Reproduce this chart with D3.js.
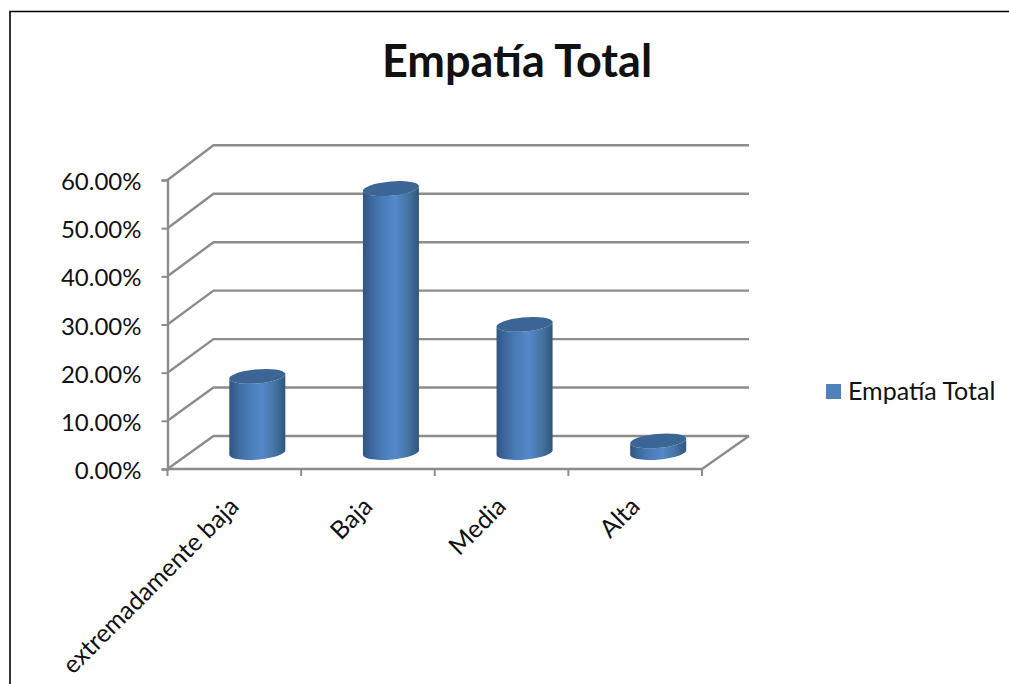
<!DOCTYPE html>
<html>
<head>
<meta charset="utf-8">
<script src="https://cdn.jsdelivr.net/npm/d3@7/dist/d3.min.js"></script>
<style>
  body { margin: 0; background: #fff; }
  text { font-family: Lato, "Open Sans", sans-serif; fill: #111; }
</style>
</head>
<body>
<div id="chart"></div>
<script>
const categories = ['extremadamente baja', 'Baja', 'Media', 'Alta'];
const values = [15.8, 54.8, 26.6, 2.4];
const yTicks = [0, 10, 20, 30, 40, 50, 60];
const seriesName = 'Empatía Total';

const width = 1009;
const height = 684;
const left = 167.5;
const right = 702;
const bottom = 469;
const top_ = 180;
const depthX = 46;
const depthY = 33;
const rx = 28;
const ry = 7;
const tilt = 2.8;
const gridColor = '#8c8c8c';

const svg = d3.select('#chart').append('svg').attr('width', width).attr('height', height);

const x = d3.scaleBand().domain(categories).range([left, right]);
const y = d3.scaleLinear().domain([0, 60]).range([bottom, top_]);
// the back wall is drawn a touch taller than the front edge
const yBack = d3.scaleLinear().domain([0, 60]).range([bottom - depthY, 145.3]);

// page frame, cut off by the window on the right and bottom
svg.append('path')
  .attr('d', `M10,${height}V11.5H${width}`)
  .attr('fill', 'none')
  .attr('stroke', '#000')
  .attr('stroke-width', 1.6);

svg.append('text')
  .attr('x', 517)
  .attr('y', 77)
  .attr('text-anchor', 'middle')
  .attr('font-size', 45)
  .attr('font-weight', 700)
  .text(seriesName);

const grad = svg.append('defs').append('linearGradient').attr('id', 'cyl');
[[0, '#2f5581'], [0.12, '#3a659a'], [0.35, '#4a7cb8'], [0.58, '#5488c9'], [0.82, '#44729f'], [1, '#2f5580']].forEach(([o, c]) => {
  grad.append('stop').attr('offset', o).attr('stop-color', c);
});

// walls and floor
const line = d3.line();
svg.append('g')
  .selectAll('path')
  .data(yTicks)
  .enter()
  .append('path')
  .attr('d', (d) => line([
    [left, y(d)],
    [left + depthX, yBack(d)],
    [right + depthX + 1, yBack(d)],
  ]))
  .attr('fill', 'none')
  .attr('stroke', gridColor)
  .attr('stroke-width', 2.4);

svg.append('path')
  .attr('d', line([[left, bottom], [right, bottom], [right + depthX + 1, bottom - depthY]]))
  .attr('fill', 'none')
  .attr('stroke', gridColor)
  .attr('stroke-width', 2.4);

// axes
const yAxis = svg.append('g')
  .attr('transform', `translate(${left},0)`)
  .call(d3.axisLeft(y).tickValues(yTicks).tickSize(6).tickPadding(20).tickFormat((d) => d.toFixed(2) + '%'));

const xAxis = svg.append('g')
  .attr('transform', `translate(0,${bottom})`)
  .call(d3.axisBottom(x).tickSize(0).tickPadding(0));

xAxis.selectAll('.tick line').remove();
xAxis.selectAll('.tick-mark')
  .data(d3.range(categories.length + 1))
  .enter()
  .append('line')
  .attr('x1', (i) => left + i * x.bandwidth())
  .attr('x2', (i) => left + i * x.bandwidth())
  .attr('y1', 0)
  .attr('y2', 7)
  .attr('stroke', gridColor)
  .attr('stroke-width', 2);

[yAxis, xAxis].forEach((a) => {
  a.attr('font-family', null).attr('font-size', null);
  a.select('.domain').attr('stroke', gridColor).attr('stroke-width', 2.4);
});
yAxis.selectAll('.tick line').attr('stroke', gridColor).attr('stroke-width', 2);
yAxis.selectAll('text').attr('font-size', 24).attr('dy', '0.4em');
xAxis.select('.domain').remove();
xAxis.selectAll('.tick text')
  .attr('font-size', 25)
  .attr('text-anchor', 'end')
  .attr('dy', 0)
  .attr('transform', 'translate(6,39) rotate(-45)');

// cylinders
const bars = svg.append('g')
  .selectAll('g')
  .data(categories.map((c, i) => ({ c, v: values[i] })))
  .enter()
  .append('g');

const cx = (d) => x(d.c) + x.bandwidth() / 2 + depthX / 2;
const baseY = y(0) - depthY / 2;
const topY = (d) => y(d.v) - depthY / 2;

bars.append('path')
  .attr('d', (d) => {
    const a = cx(d) - rx;
    const b = cx(d) + rx;
    return `M${a},${topY(d) + tilt}L${a},${baseY + tilt}` +
      `A${rx},${ry} -5 0 0 ${b},${baseY - tilt}L${b},${topY(d) - tilt}` +
      `A${rx},${ry} -5 0 1 ${a},${topY(d) + tilt}Z`;
  })
  .attr('fill', 'url(#cyl)');

bars.append('path')
  .attr('d', (d) => {
    const a = cx(d) - rx;
    const b = cx(d) + rx;
    return `M${a},${topY(d) + tilt}A${rx},${ry} -5 0 1 ${b},${topY(d) - tilt}` +
      `A${rx},${ry} -5 0 1 ${a},${topY(d) + tilt}Z`;
  })
  .attr('fill', '#3b6594');

// legend
const legend = svg.append('g').attr('transform', 'translate(826,384)');
legend.append('rect').attr('width', 15).attr('height', 15).attr('fill', '#4f81bd');
legend.append('text').attr('x', 22).attr('y', 16).attr('font-size', 25).text(seriesName);
</script>
</body>
</html>
